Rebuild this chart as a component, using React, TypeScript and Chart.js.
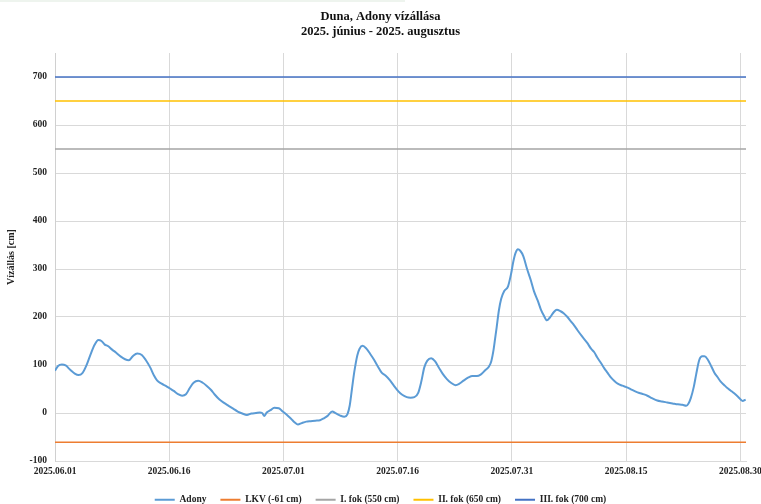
import React, { useEffect, useRef } from "react";
import { Chart, registerables } from "chart.js";

Chart.register(...registerables);

// Days since 2025.06.01 00:00
const dayOffsets: number[] = [
  0, 0.4, 0.9, 1.4, 2.0, 2.6, 3.1, 3.6, 4.1, 4.6, 5.2, 5.7, 6.1, 6.5, 7.0, 7.5, 8.0, 8.6, 9.2, 9.7,
  10.2, 10.8, 11.4, 11.9, 12.5, 13.0, 13.4, 14.0, 14.6, 15.1, 15.6, 16.1, 16.7, 17.2, 17.7, 18.2, 18.8, 19.4, 19.9,
  20.5, 21.0, 21.6, 22.2, 22.8, 23.4, 24.0, 24.6, 25.2, 25.8, 26.4, 26.9, 27.2, 27.5, 27.8, 28.3, 28.8, 29.4, 29.9,
  30.4, 31.0, 31.5, 31.9, 32.4, 33.0, 33.6, 34.2, 34.8, 35.3, 35.8, 36.4, 36.9, 37.4, 38.0, 38.4, 38.7, 39.0, 39.3, 39.7,
  40.0, 40.4, 40.9, 41.4, 41.9, 42.4, 42.9, 43.4, 44.0, 44.5, 45.1, 45.6, 46.2, 46.7, 47.2, 47.7, 48.1, 48.5, 48.9, 49.4, 49.9,
  50.4, 50.9, 51.5, 52.0, 52.6, 53.1, 53.7, 54.3, 54.8, 55.4, 55.9, 56.5, 57.0, 57.3, 57.6, 57.8, 58.0, 58.3, 58.6, 59.0, 59.5, 59.9,
  60.2, 60.5, 60.8, 61.1, 61.5, 62.0, 62.5, 62.9, 63.4, 63.8, 64.2, 64.6, 65.0, 65.5, 65.9, 66.4, 66.8, 67.3, 67.7, 68.2, 68.6, 69.2, 69.9,
  70.4, 70.8, 71.2, 71.7, 72.1, 72.6, 73.0, 73.5, 73.9, 74.5, 75.2, 75.8, 76.5, 77.1, 77.8, 78.4, 79.1, 79.7,
  80.4, 81.1, 81.8, 82.4, 82.9, 83.2, 83.5, 83.9, 84.2, 84.6, 85.0, 85.3, 85.7, 86.2, 86.6, 87.0, 87.4, 87.9, 88.3, 88.8, 89.2, 89.7,
  90.3, 90.7,
];

const adonyLevels: number[] = [
  88, 98, 101, 99, 90, 82, 79, 83, 98, 119, 142, 152, 150, 143, 139, 132, 126, 118, 112, 110,
  118, 124, 121, 111, 95, 78, 68, 61, 56, 51, 46, 40, 36, 39, 52, 63, 67, 63, 57,
  48, 38, 28, 21, 15, 9, 3, -1, -4, -1, 0, 1, 0, -6, 1, 6, 11, 10, 3,
  -3, -12, -20, -24, -21, -18, -17, -16, -15, -11, -6, 3, -1, -5, -8, -3, 15, 50, 85, 120,
  134, 140, 134, 123, 111, 97, 84, 78, 68, 57, 45, 38, 33, 32, 33, 42, 65, 95, 109, 114, 108,
  95, 82, 70, 63, 58, 61, 68, 74, 77, 77, 80, 89, 97, 108, 132, 155, 178, 214, 238, 254, 264, 290,
  316, 334, 341, 338, 327, 300, 276, 254, 234, 216, 203, 193, 199, 210, 215, 212, 208, 200, 192, 182, 173, 160, 146,
  134, 127, 116, 104, 94, 83, 74, 66, 61, 57, 53, 48, 43, 40, 36, 31, 26, 24,
  22, 20, 18, 17, 15, 20, 31, 55, 80, 110, 118, 118, 112, 97, 84, 75, 66, 58, 52, 46, 41, 34,
  25, 28,
];

const thresholdNames: string[] = ["LKV (-61 cm)", "I. fok (550 cm)", "II. fok (650 cm)", "III. fok (700 cm)"];
const thresholdValues: number[] = [-61, 550, 650, 700];
const thresholdColors: string[] = ["#ED7D31", "#A5A5A5", "#FFC000", "#4472C4"];

const xTickLabels: string[] = [
  "2025.06.01", "2025.06.16", "2025.07.01", "2025.07.16", "2025.07.31", "2025.08.15", "2025.08.30",
];
const xTickDays: number[] = [0, 15, 30, 45, 60, 75, 90];
const yTickValues: number[] = [-100, 0, 100, 200, 300, 400, 500, 600, 700];

const X_MIN = 0;
const X_MAX = 90.75;
const FONT = "'Liberation Serif', 'Times New Roman', serif";

export default function App() {
  const ref = useRef<HTMLCanvasElement | null>(null);

  useEffect(() => {
    if (!ref.current) return;
    const datasets: any[] = [
      {
        label: "Adony",
        data: dayOffsets.map((d, i) => ({ x: d, y: adonyLevels[i] })),
        borderColor: "#5B9BD5",
        backgroundColor: "#5B9BD5",
        borderWidth: 2,
        pointRadius: 0,
        cubicInterpolationMode: "monotone",
      },
      ...thresholdNames.map((name, i) => ({
        label: name,
        data: [
          { x: X_MIN, y: thresholdValues[i] },
          { x: X_MAX, y: thresholdValues[i] },
        ],
        borderColor: thresholdColors[i],
        backgroundColor: thresholdColors[i],
        borderWidth: 1.6,
        pointRadius: 0,
      })),
    ];

    const chart = new Chart(ref.current, {
      type: "line",
      data: { datasets },
      options: {
        animation: false,
        responsive: false,
        devicePixelRatio: 1,
        layout: { padding: { left: 0, right: 0, top: 0, bottom: -10.5 } },
        plugins: {
          title: {
            display: true,
            text: ["Duna, Adony vízállása", "2025. június - 2025. augusztus"],
            color: "#111",
            font: { family: FONT, size: 12.5, weight: "bold", lineHeight: 1.2 },
            padding: { top: 9, bottom: 14 },
          },
          legend: {
            position: "bottom",
            labels: {
              boxWidth: 20,
              boxHeight: 2,
              padding: 14,
              color: "#222",
              font: { family: FONT, size: 9.5, weight: "bold" },
              generateLabels: (c: any) =>
                c.data.datasets.map((ds: any, i: number) => ({
                  text: ds.label,
                  fillStyle: ds.borderColor,
                  strokeStyle: ds.borderColor,
                  lineWidth: 0,
                  hidden: false,
                  datasetIndex: i,
                  fontColor: "#222",
                })),
            },
          },
          tooltip: { enabled: false },
        },
        scales: {
          x: {
            type: "linear",
            min: X_MIN,
            max: X_MAX,
            afterBuildTicks: (s: any) => {
              s.ticks = xTickDays.map((v) => ({ value: v }));
            },
            afterFit: (s: any) => {
              s.height = 20;
              s.paddingLeft = 0;
              s.paddingRight = 15;
            },
            ticks: {
              autoSkip: false,
              maxRotation: 0,
              padding: 5,
              color: "#222",
              font: { family: FONT, size: 9.5, weight: "bold" },
              callback: (v: any) => xTickLabels[xTickDays.indexOf(Math.round(Number(v)))] ?? "",
            },
            grid: { color: "#D9D9D9", drawTicks: false, lineWidth: 1 },
            border: { color: "#D9D9D9" },
          },
          y: {
            type: "linear",
            min: -100,
            max: 750,
            afterBuildTicks: (s: any) => {
              s.ticks = yTickValues.map((v) => ({ value: v }));
            },
            afterFit: (s: any) => {
              s.width = 55;
              s.paddingTop = 0;
              s.paddingBottom = 0;
            },
            ticks: {
              padding: 8,
              color: "#222",
              font: { family: FONT, size: 9.5, weight: "bold" },
            },
            grid: { color: "#D9D9D9", drawTicks: false, lineWidth: 1 },
            border: { color: "#D0D0D0" },
            title: {
              display: true,
              text: "Vízállás [cm]",
              color: "#222",
              font: { family: FONT, size: 10, weight: "bold" },
              padding: { top: 5, bottom: 0 },
            },
          },
        },
      } as any,
    });
    return () => chart.destroy();
  }, []);

  return (
    <div style={{ position: "absolute", left: 0, top: 0, width: 761, height: 504, background: "#fff" }}>
      <div style={{ position: "absolute", left: 0, top: 0, width: 405, height: 2, background: "#EEF4EE" }} />
      <canvas ref={ref} width={761} height={504} style={{ display: "block", width: 761, height: 504 }} />
    </div>
  );
}
